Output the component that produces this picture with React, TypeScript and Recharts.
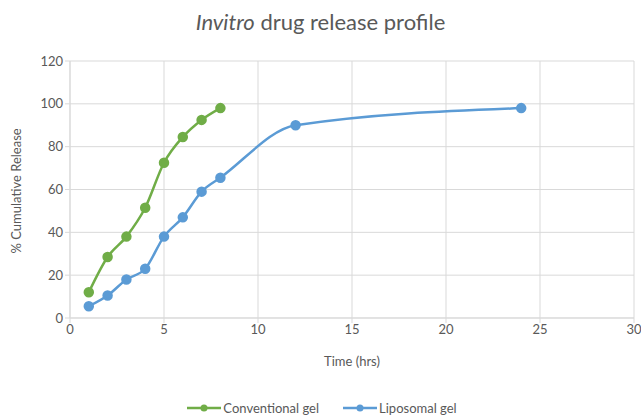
import {
  CartesianGrid,
  Legend,
  Line,
  LineChart,
  XAxis,
  YAxis,
} from "recharts";

const conventionalTime = [1, 2, 3, 4, 5, 6, 7, 8];
const conventionalRelease = [12, 28.5, 38, 51.5, 72.5, 84.5, 92.5, 98];
const liposomalTime = [1, 2, 3, 4, 5, 6, 7, 8, 12, 24];
const liposomalRelease = [5.5, 10.5, 18, 23, 38, 47, 59, 65.5, 90, 98];
const xTicks = [0, 5, 10, 15, 20, 25, 30];
const yTicks = [0, 20, 40, 60, 80, 100, 120];

const conventional = conventionalTime.map((t, i) => ({ t, v: conventionalRelease[i] }));
const liposomal = liposomalTime.map((t, i) => ({ t, v: liposomalRelease[i] }));

const series = [
  { name: "Conventional gel", color: "#70ad47", data: conventional },
  { name: "Liposomal gel", color: "#5b9bd5", data: liposomal },
];

const font = "Lato, 'Open Sans', sans-serif";
const textColor = "#595959";
const gridColor = "#d9d9d9";

function LegendContent() {
  return (
    <div style={{ display: "flex", justifyContent: "center", gap: 24, height: 16, alignItems: "center", fontFamily: font, fontSize: 13, color: textColor }}>
      {series.map((s) => (
        <div key={s.name} style={{ display: "flex", alignItems: "center" }}>
          <svg width={34} height={10}>
            <line x1={0} y1={5} x2={34} y2={5} stroke={s.color} strokeWidth={2.5} />
            <circle cx={17} cy={5} r={3.5} fill={s.color} />
          </svg>
          <span style={{ marginLeft: 2 }}>{s.name}</span>
        </div>
      ))}
    </div>
  );
}

export default function App() {
  return (
    <div style={{ position: "absolute", left: 0, top: 0, width: 641, height: 416, background: "#fff" }}>
      <div
        style={{
          position: "absolute",
          top: 8,
          width: 641,
          textAlign: "center",
          fontFamily: font,
          fontSize: 22,
          color: textColor,
        }}
      >
        <i>Invitro</i> drug release profile
      </div>
      <LineChart width={641} height={416} margin={{ top: 61, right: 7, bottom: 0, left: 10 }}>
        <CartesianGrid stroke={gridColor} />
        <XAxis
          type="number"
          dataKey="t"
          domain={[0, 30]}
          ticks={xTicks}
          allowDuplicatedCategory={false}
          stroke={gridColor}
          tickSize={5}
          tick={{ fill: textColor, fontSize: 13, fontFamily: font }}
          height={82}
          label={{ value: "Time (hrs)", position: "insideBottom", offset: 34, fill: textColor, fontSize: 13, fontFamily: font }}
        />
        <YAxis
          type="number"
          domain={[0, 120]}
          ticks={yTicks}
          width={60}
          stroke={gridColor}
          tickSize={5}
          tick={{ fill: textColor, fontSize: 13, fontFamily: font }}
          label={{ value: "% Cumulative Release", angle: -90, position: "insideLeft", offset: 6, dy: 64, fill: textColor, fontSize: 13, fontFamily: font }}
        />
        <Legend verticalAlign="bottom" content={<LegendContent />} wrapperStyle={{ height: 16 }} />
        {series.map((s) => (
          <Line
            key={s.name}
            data={s.data}
            dataKey="v"
            name={s.name}
            type="monotone"
            stroke={s.color}
            strokeWidth={2.5}
            dot={{ r: 4, fill: s.color, stroke: s.color }}
            isAnimationActive={false}
          />
        ))}
      </LineChart>
    </div>
  );
}
